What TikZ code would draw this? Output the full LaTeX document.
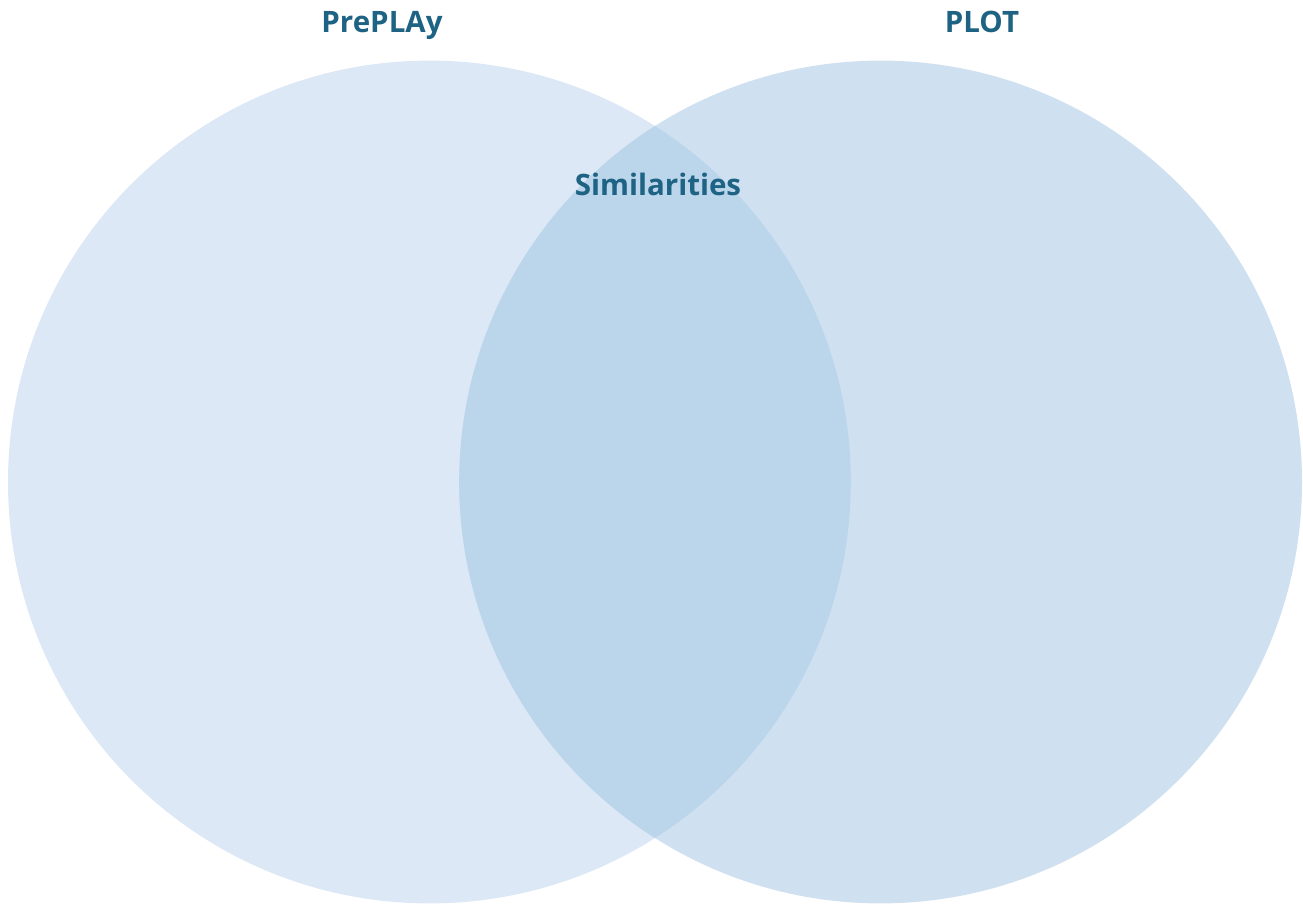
\documentclass[tikz,border=0pt]{standalone}
\usepackage{fontspec}
\setmainfont{Open Sans}
\definecolor{leftc}{HTML}{DCE8F5}
\definecolor{rightc}{HTML}{CFE0F1}
\definecolor{bothc}{HTML}{BBD5EB}
\definecolor{txt}{RGB}{30,98,132}
\begin{document}
\begin{tikzpicture}[x=1pt,y=-1pt,
  lbl/.style={text=txt,font=\fontsize{29.5}{34}\selectfont\bfseries,inner sep=0pt,anchor=base}]
\useasboundingbox (0,0) rectangle (1303,904);
\fill[leftc] (429.4,482) circle[radius=421.4];
\fill[rightc] (880.6,482) circle[radius=421.4];
\begin{scope}
\clip (429.4,482) circle[radius=421.4];
\fill[bothc] (880.6,482) circle[radius=421.4];
\end{scope}
\node[lbl] (a) at (382,33) {PrePLAy};
\node[lbl] (b) at (982,33) {PLOT};
\node[lbl] (c) at (658,196) {Similarities};
\end{tikzpicture}
\end{document}
